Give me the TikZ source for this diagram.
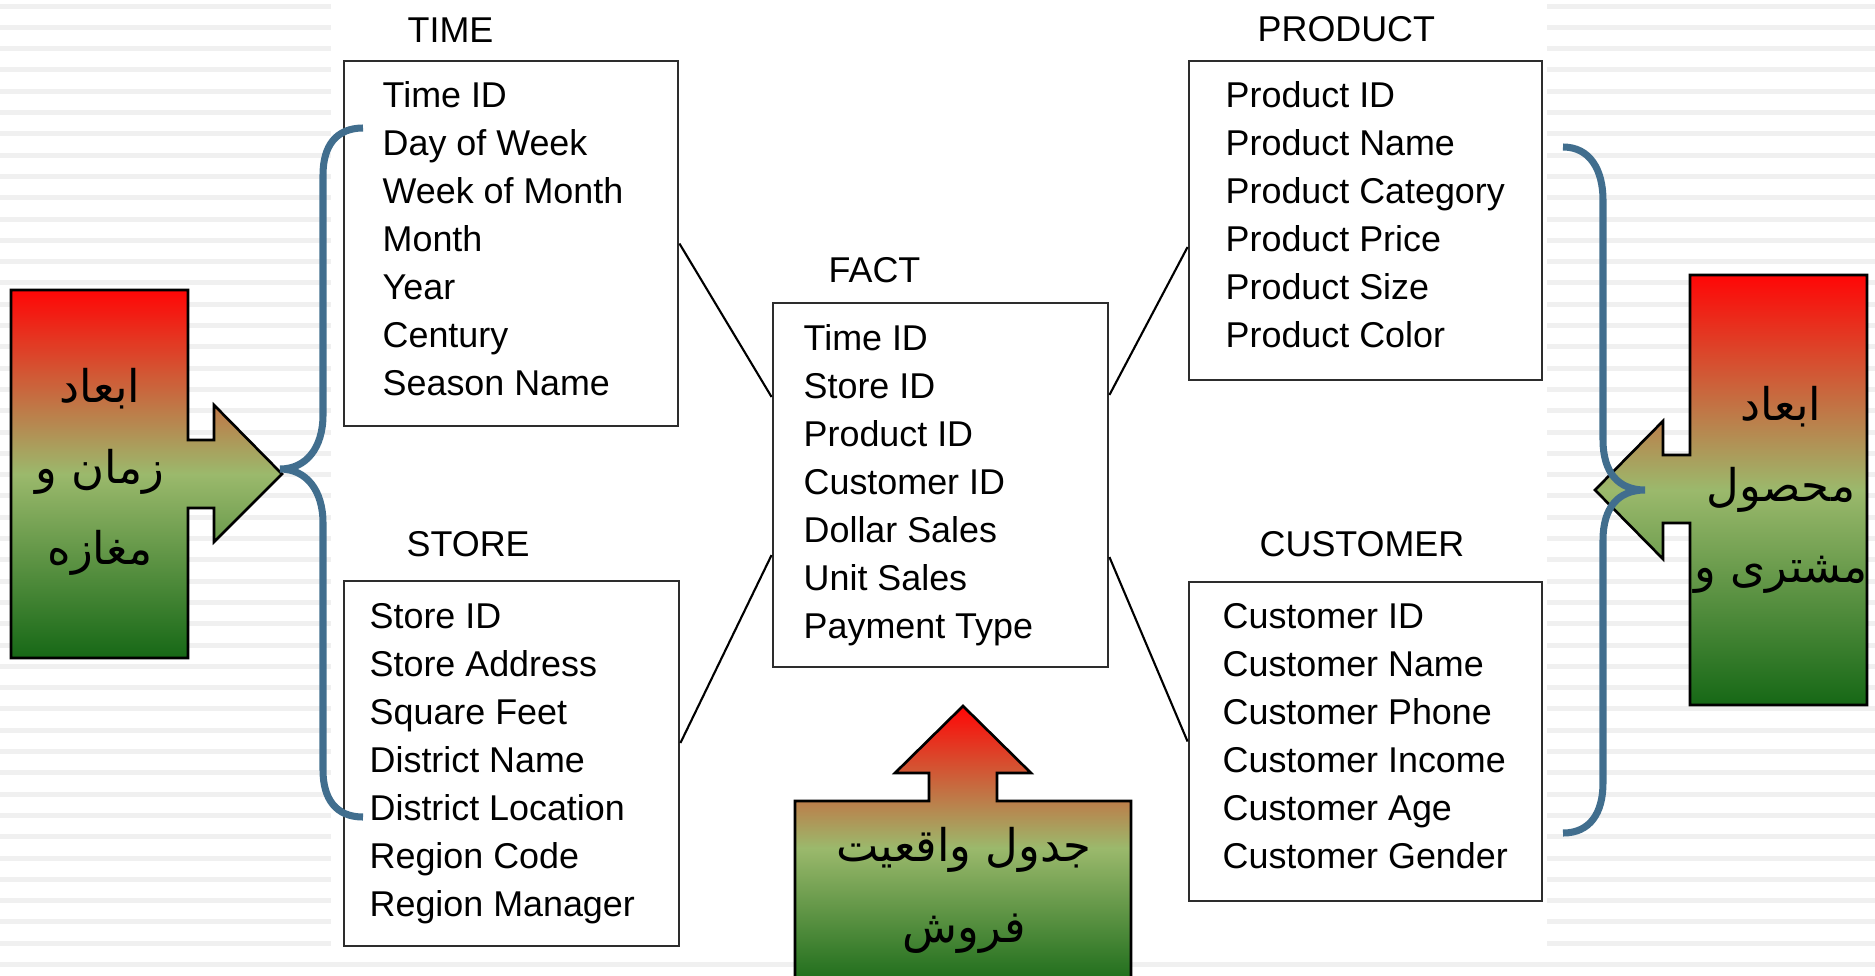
\documentclass[tikz,border=0pt]{standalone}
\usepackage{fontspec}
\setmainfont{Liberation Sans}
\newfontfamily\arabicfont[Script=Arabic]{DejaVu Sans}
\TeXXeTstate=1
\definecolor{bracecol}{RGB}{65,110,142}
\definecolor{stripecol}{RGB}{240,240,240}
\definecolor{callred}{RGB}{255,6,6}
\definecolor{callmid}{RGB}{155,185,108}
\definecolor{calldark}{RGB}{22,104,22}
\definecolor{boxline}{RGB}{45,45,45}

\begin{document}
\begin{tikzpicture}[x=0.01cm,y=-0.01cm,
	tbl/.style={draw=boxline,line width=0.75pt,inner sep=0pt},
	field/.style={anchor=base west,inner sep=0pt,font=\fontsize{10.2}{13.66}\selectfont},
	tabname/.style={field},
	link/.style={line width=0.6pt},
	callout/.style={draw=black,line width=0.75pt,top color=callred,bottom color=calldark,middle color=callmid},
	calltext/.style={align=center,inner sep=0pt,font=\arabicfont\fontsize{12.8}{23}\selectfont},
	curly/.style={draw=bracecol,line width=2pt}]
		\useasboundingbox (0,0) rectangle (1875,975);
		\clip (0,0) rectangle (1875,975);
		\foreach \k in {0,...,45}{\fill[stripecol] (0,{3.5+21.3*\k}) rectangle (1875,{8.5+21.3*\k});}
		\fill[white] (331,0) rectangle (1547,959);

		\node[tbl,minimum width=3.34cm,minimum height=3.65cm] (time) at (511,243.5) {};
		\node[tbl,minimum width=3.35cm,minimum height=3.65cm] (store) at (511.5,763.5) {};
		\node[tbl,minimum width=3.35cm,minimum height=3.64cm] (fact) at (940.5,485) {};
		\node[tbl,minimum width=3.53cm,minimum height=3.19cm] (product) at (1365.5,220.5) {};
		\node[tbl,minimum width=3.53cm,minimum height=3.19cm] (customer) at (1365.5,741.5) {};

		\node[tabname] (timehead) at (407,42) {TIME};
		\node[tabname] (storehead) at (406,556) {STORE};
		\node[tabname] (facthead) at (828,282) {FACT};
		\node[tabname] (producthead) at (1257,41) {PRODUCT};
		\node[tabname] (customerhead) at (1259,556) {CUSTOMER};

		\foreach \f [count=\i] in {Time ID,Day of Week,Week of Month,Month,Year,Century,Season Name}
			{\node[field] (time\i) at (382,{59+48*\i}) {\f};}
		\foreach \f [count=\i] in {Store ID,Store Address,Square Feet,District Name,District Location,Region Code,Region Manager}
			{\node[field] (store\i) at (369,{580+48*\i}) {\f};}
		\foreach \f [count=\i] in {Time ID,Store ID,Product ID,Customer ID,Dollar Sales,Unit Sales,Payment Type}
			{\node[field] (fact\i) at (803,{302+48*\i}) {\f};}
		\foreach \f [count=\i] in {Product ID,Product Name,Product Category,Product Price,Product Size,Product Color}
			{\node[field] (product\i) at (1225,{59+48*\i}) {\f};}
		\foreach \f [count=\i] in {Customer ID,Customer Name,Customer Phone,Customer Income,Customer Age,Customer Gender}
			{\node[field] (customer\i) at (1222,{580+48*\i}) {\f};}

		\draw[link] (time.east) -- ([yshift=0.88cm]fact.west);
		\draw[link] ([yshift=0.205cm]store.east) -- ([yshift=-0.7cm]fact.west);
		\draw[link] ([yshift=0.9cm]fact.east) -- ([yshift=-0.265cm]product.west);
		\draw[link] ([yshift=-0.72cm]fact.east) -- (customer.west);

		\draw[callout] (11,290) -- (188,290) -- (188,440) -- (214,440) -- (214,405) -- (282,474) -- (214,542) -- (214,508) -- (188,508) -- (188,658) -- (11,658) -- cycle;
		\draw[callout] (1867,275) -- (1690,275) -- (1690,455) -- (1663,455) -- (1663,421) -- (1595,490) -- (1663,559) -- (1663,523) -- (1690,523) -- (1690,705) -- (1867,705) -- cycle;
		\draw[callout] (795,801) -- (929,801) -- (929,773) -- (895,773) -- (963,706) -- (1031,773) -- (997,773) -- (997,801) -- (1131,801) -- (1131,990) -- (795,990) -- cycle;

		\node[calltext] (timestore) at (100,472) {\beginR ابعاد\endR\\\beginR زمان و\endR\\\beginR مغازه\endR};
		\node[calltext] (prodcust) at (1781,490) {\beginR ابعاد\endR\\\beginR محصول\endR\\\beginR مشتری و\endR};
		\node[calltext] (salesfact) at (964,890) {\beginR جدول واقعیت\endR\\\beginR فروش\endR};

		\draw[curly] (363,128) .. controls (336,128) and (323,146) .. (323,175) -- (323,415) .. controls (323,448) and (306,469) .. (280,469) .. controls (306,469) and (323,490) .. (323,523) -- (323,770) .. controls (323,799) and (336,817) .. (363,817);
		\draw[curly] (1563,147) .. controls (1590,147) and (1603,170) .. (1603,200) -- (1603,440) .. controls (1603,472) and (1618,490) .. (1645,490) .. controls (1618,490) and (1603,508) .. (1603,540) -- (1603,783) .. controls (1603,813) and (1590,833) .. (1563,833);
\end{tikzpicture}
\end{document}
